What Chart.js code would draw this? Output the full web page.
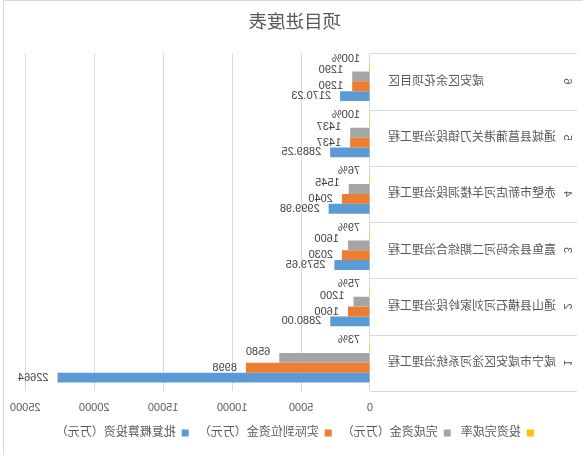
<!DOCTYPE html>
<html>
<head>
<meta charset="utf-8">
<script src="https://cdn.jsdelivr.net/npm/chart.js@4.4.1/dist/chart.umd.min.js"></script>
<style>
  html, body { margin: 0; padding: 0; background: #fff; }
  #wrap { width: 583px; height: 455px; position: relative; transform: scaleX(-1); }
</style>
</head>
<body>
<div id="wrap"><canvas id="progressChart"></canvas></div>
<script>
// categories, top to bottom
const projectNo = ['6', '5', '4', '3', '2', '1'];
const projectNames = [
    '咸安区余花项目区',
    '通城县菖蒲港关刀镇段治理工程',
    '赤壁市新店河羊楼洞段治理工程',
    '嘉鱼县余码河二期综合治理工程',
    '通山县横石河刘家岭段治理工程',
    '咸宁市咸安区淦河系统治理工程'
];
const investRate = [1.00, 1.00, 0.76, 0.79, 0.75, 0.73];
const completedFunds = [1290, 1437, 1545, 1600, 1200, 6580];
const fundsInPlace = [1290, 1437, 2040, 2030, 1600, 8998];
const approvedBudget = [2170.23, 2889.25, 2999.98, 2579.65, 2880.00, 22664];
const approvedBudgetText = ['2170.23', '2889.25', '2999.98', '2579.65', '2880.00', '22664'];
const xTicks = [0, 5000, 10000, 15000, 20000, 25000];

const FONT = "'Liberation Sans', 'Noto Sans CJK SC', sans-serif";
const GREY = '#595959';
const LINE = '#d9d9d9';

Chart.defaults.font.family = FONT;
Chart.defaults.color = GREY;

// value labels, category numbers, separators and chart border
const extras = {
    id: 'extras',
    afterDatasetsDraw(chart) {
        const ctx = chart.ctx;
        ctx.save();
        ctx.font = '11px ' + FONT;
        ctx.fillStyle = '#404040';
        ctx.textAlign = 'left';
        ctx.textBaseline = 'middle';
        chart.data.datasets.forEach((ds, i) => {
            chart.getDatasetMeta(i).data.forEach((bar, j) => {
                ctx.fillText(ds.valueText[j], bar.x + 9, bar.y + ds.textShift);
            });
        });
        ctx.restore();
    },
    afterDraw(chart) {
        const ctx = chart.ctx;
        const y = chart.scales.y;
        const area = chart.chartArea;
        const half = (y.getPixelForValue(1) - y.getPixelForValue(0)) / 2;
        ctx.save();
        ctx.strokeStyle = LINE;
        ctx.lineWidth = 1;
        for (let i = 0; i <= projectNo.length; i++) {
            const py = Math.round(y.getPixelForValue(i) - half) + 0.5;
            ctx.beginPath();
            ctx.moveTo(6, py);
            ctx.lineTo(area.left, py);
            ctx.stroke();
        }
        // outer border
        ctx.beginPath();
        ctx.moveTo(0, 0.5);
        ctx.lineTo(579.5, 0.5);
        ctx.lineTo(579.5, 455);
        ctx.stroke();

        ctx.fillStyle = GREY;
        ctx.font = '11px ' + FONT;
        ctx.textAlign = 'center';
        ctx.textBaseline = 'middle';
        projectNo.forEach((n, i) => {
            ctx.save();
            ctx.translate(16, y.getPixelForValue(i));
            ctx.rotate(-Math.PI / 2);
            ctx.fillText(n, 0, 0);
            ctx.restore();
        });
        ctx.restore();
    }
};

const ctx = document.getElementById('progressChart').getContext('2d');
const progressChart = new Chart(ctx, {
    type: 'bar',
    data: {
        labels: projectNames,
        datasets: [{
            label: '投资完成率',
            data: investRate,
            backgroundColor: '#FFC000',
            minBarLength: 1,
            valueText: investRate.map(v => Math.round(v * 100) + '%'),
            textShift: -8
        }, {
            label: '完成资金（万元）',
            data: completedFunds,
            backgroundColor: '#A5A5A5',
            valueText: completedFunds.map(String),
            textShift: -6
        }, {
            label: '实际到位资金（万元）',
            data: fundsInPlace,
            backgroundColor: '#ED7D31',
            valueText: fundsInPlace.map(String),
            textShift: 0
        }, {
            label: '批复概算投资（万元）',
            data: approvedBudget,
            backgroundColor: '#5B9BD5',
            valueText: approvedBudgetText,
            textShift: 0
        }]
    },
    options: {
        indexAxis: 'y',
        responsive: true,
        maintainAspectRatio: false,
        animation: false,
        categoryPercentage: 0.7,
        barPercentage: 1,
        layout: { padding: { left: 18, right: 24.5, top: 0, bottom: 6 } },
        plugins: {
            title: {
                display: true,
                text: '项目进度表',
                color: GREY,
                font: { size: 18.5, weight: 'normal' },
                padding: { top: 12, bottom: 19 }
            },
            legend: {
                position: 'bottom',
                labels: {
                    boxWidth: 7,
                    boxHeight: 7,
                    padding: 10,
                    color: GREY,
                    font: { size: 12 }
                }
            },
            tooltip: { enabled: false }
        },
        scales: {
            x: {
                min: 0,
                max: 25000,
                afterBuildTicks: s => { s.ticks = xTicks.map(v => ({ value: v })); },
                afterFit: s => { s.height = 26; },
                ticks: { color: GREY, font: { size: 11 }, padding: 10, callback: v => String(v) },
                grid: { color: LINE, drawTicks: false },
                border: { display: false }
            },
            y: {
                afterFit: s => { s.width = 195; },
                ticks: { color: GREY, font: { size: 12 }, padding: 10 },
                grid: { display: false },
                border: { display: false }
            }
        }
    },
    plugins: [extras]
});
</script>
</body>
</html>
